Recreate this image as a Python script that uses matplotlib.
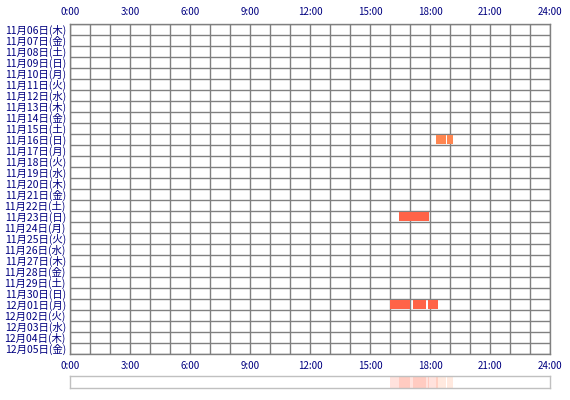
import matplotlib
matplotlib.use("Agg")
import matplotlib.pyplot as plt

plt.rcParams['font.family'] = ['Noto Sans CJK JP', 'DejaVu Sans']

# row labels (one per day)
day_labels = [
    "11月06日(木)", "11月07日(金)", "11月08日(土)", "11月09日(日)", "11月10日(月)",
    "11月11日(火)", "11月12日(水)", "11月13日(木)", "11月14日(金)", "11月15日(土)",
    "11月16日(日)", "11月17日(月)", "11月18日(火)", "11月19日(水)", "11月20日(木)",
    "11月21日(金)", "11月22日(土)", "11月23日(日)", "11月24日(月)", "11月25日(火)",
    "11月26日(水)", "11月27日(木)", "11月28日(金)", "11月29日(土)", "11月30日(日)",
    "12月01日(月)", "12月02日(火)", "12月03日(水)", "12月04日(木)", "12月05日(金)",
]
hour_ticks = [0, 3, 6, 9, 12, 15, 18, 21, 24]
hour_labels = ["0:00", "3:00", "6:00", "9:00", "12:00", "15:00", "18:00", "21:00", "24:00"]

# activity sessions: day row, start hour, end hour, colour
session_days = [10, 10, 17, 17, 25, 25, 25]
session_starts = [18.3, 18.85, 16.45, 17.0, 16.0, 17.15, 17.9]
session_ends = [18.8, 19.15, 17.0, 17.95, 17.0, 17.8, 18.4]
session_colors = ["#FF8650", "#FF8650", "#FF6347", "#FF6347", "#FF6347", "#FF6347", "#FF6347"]

text_color = "#000080"
grid_color = "#808080"

fig = plt.figure(figsize=(5.7, 4.0), dpi=100)
W, H = 570.0, 400.0
ax = fig.add_axes([70 / W, (H - 354) / H, 480 / W, 330 / H])

n = len(day_labels)
ax.set_xlim(0, 24)
ax.set_ylim(n, 0)

for h in range(25):
    ax.axvline(h, color=grid_color, lw=1.0, zorder=1)
for r in range(n + 1):
    ax.axhline(r, color=grid_color, lw=1.0, zorder=1)

for d, s, e, c in zip(session_days, session_starts, session_ends, session_colors):
    ax.barh(d + 0.5, e - s, left=s, height=0.9, color=c, zorder=2, linewidth=0)

for sp in ax.spines.values():
    sp.set_color(grid_color)
    sp.set_linewidth(1.0)

ax.set_xticks(hour_ticks)
ax.set_xticklabels(hour_labels)
ax.tick_params(axis='x', which='both', length=0, labelsize=7, colors=text_color,
               top=True, labeltop=True, bottom=True, labelbottom=True, pad=5)
ax.set_yticks([i + 0.5 for i in range(n)])
ax.set_yticklabels(day_labels)
ax.tick_params(axis='y', length=0, labelsize=7.5, colors=text_color, pad=3)

# summary strip below the grid
ax2 = fig.add_axes([70 / W, (H - 388) / H, 480 / W, 12 / H])
ax2.set_xlim(0, 24)
ax2.set_ylim(0, 1)
for s, e, c in zip(session_starts, session_ends, session_colors):
    ax2.barh(0.5, e - s, left=s, height=1, color=c, alpha=0.18, linewidth=0)
ax2.set_xticks([])
ax2.set_yticks([])
for sp in ax2.spines.values():
    sp.set_color("#C0C0C0")
    sp.set_linewidth(1)

fig.savefig("out.png", dpi=100)
